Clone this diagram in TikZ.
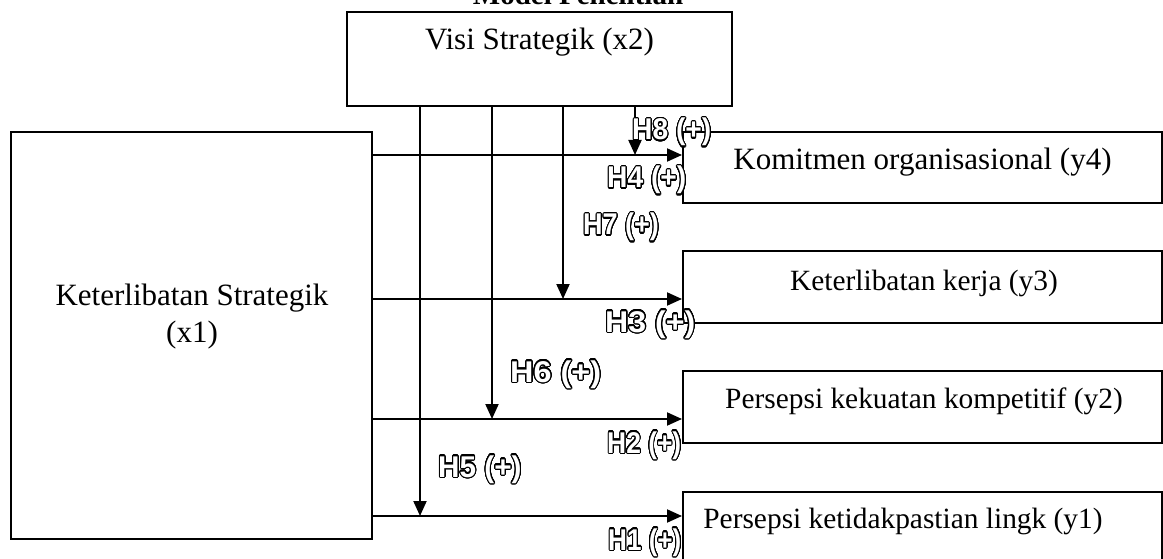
\documentclass[tikz,border=0pt]{standalone}
\usepackage{fontspec}
\setmainfont{Liberation Serif}
\newfontfamily\hypfont{Liberation Sans}
\usepackage{graphicx}
\usepackage{contour}
\usetikzlibrary{arrows.meta}
\contourlength{1.1pt}
\contournumber{32}
\newcommand{\hyplab}[2]{\scalebox{#1}[1]{\hypfont\bfseries\fontsize{30}{33}\selectfont\color{white}\contour{black}{#2}}}
\begin{document}
\begin{tikzpicture}[x=1pt,y=-1pt,
  box/.style={draw, line width=2pt, inner sep=0pt},
  txt/.style={font=\fontsize{31}{36}\selectfont, anchor=base, inner sep=0pt},
  txtb/.style={font=\fontsize{29.4}{34}\selectfont, anchor=base, inner sep=0pt},
  arr/.style={line width=2pt, -{Triangle[length=15pt,width=13pt]}},
  lab/.style={anchor=base west, inner sep=0pt}]
\clip (0,0) rectangle (1163,559);
% title
\node[font=\bfseries\fontsize{29}{32}\selectfont, anchor=base, inner sep=0pt] (title) at (578,5) {Model Penelitian};
% boxes
\node[box, minimum width=385pt, minimum height=94pt] (x2) at (539.5,59) {};
\node[box, minimum width=361pt, minimum height=407pt] (x1) at (191.5,335.5) {};
\node[box, minimum width=479pt, minimum height=71pt] (y4) at (922.5,167.5) {};
\node[box, minimum width=479pt, minimum height=72pt] (y3) at (922.5,287) {};
\node[box, minimum width=479pt, minimum height=72pt] (y2) at (922.5,407) {};
\node[box, minimum width=479pt, minimum height=72pt] (y1) at (922.5,528) {};
% texts
\node[txt] (tx2) at (539.5,50) {Visi Strategik (x2)};
\node[txt] (tx1a) at (192,305) {Keterlibatan Strategik};
\node[txt] (tx1b) at (192,342) {(x1)};
\node[txt] (ty4) at (922.5,170) {Komitmen organisasional (y4)};
\node[txtb] (ty3) at (924,290) {Keterlibatan kerja (y3)};
\node[txtb] (ty2) at (924,408) {Persepsi kekuatan kompetitif (y2)};
\node[txtb] (ty1) at (903,528) {Persepsi ketidakpastian lingk (y1)};
% junctions
\coordinate (j4) at (635,155);
\coordinate (j3) at (563,299);
\coordinate (j2) at (492,419);
\coordinate (j1) at (420,516);
% horizontal arrows
\draw[arr] (x1.east |- j4) -- (y4.west |- j4);
\draw[arr] (x1.east |- j3) -- (y3.west |- j3);
\draw[arr] (x1.east |- j2) -- (y2.west |- j2);
\draw[arr] (x1.east |- j1) -- (y1.west |- j1);
% vertical arrows
\draw[arr] (x2.south -| j4) -- (j4);
\draw[arr] (x2.south -| j3) -- (j3);
\draw[arr] (x2.south -| j2) -- (j2);
\draw[arr] (x2.south -| j1) -- (j1);
% hypothesis labels
\node[lab] (h8) at (632,140) {\hyplab{0.94}{H8 (+)}};
\node[lab] (h4) at (607,188) {\hyplab{0.94}{H4 (+)}};
\node[lab] (h7) at (583,235) {\hyplab{0.9}{H7 (+)}};
\node[lab] (h3) at (605,332) {\hyplab{1.07}{H3 (+)}};
\node[lab] (h6) at (510,382) {\hyplab{1.08}{H6 (+)}};
\node[lab] (h2) at (607,453) {\hyplab{0.88}{H2 (+)}};
\node[lab] (h5) at (438,477) {\hyplab{0.99}{H5 (+)}};
\node[lab] (h1) at (608,550) {\hyplab{0.87}{H1 (+)}};
\end{tikzpicture}
\end{document}
